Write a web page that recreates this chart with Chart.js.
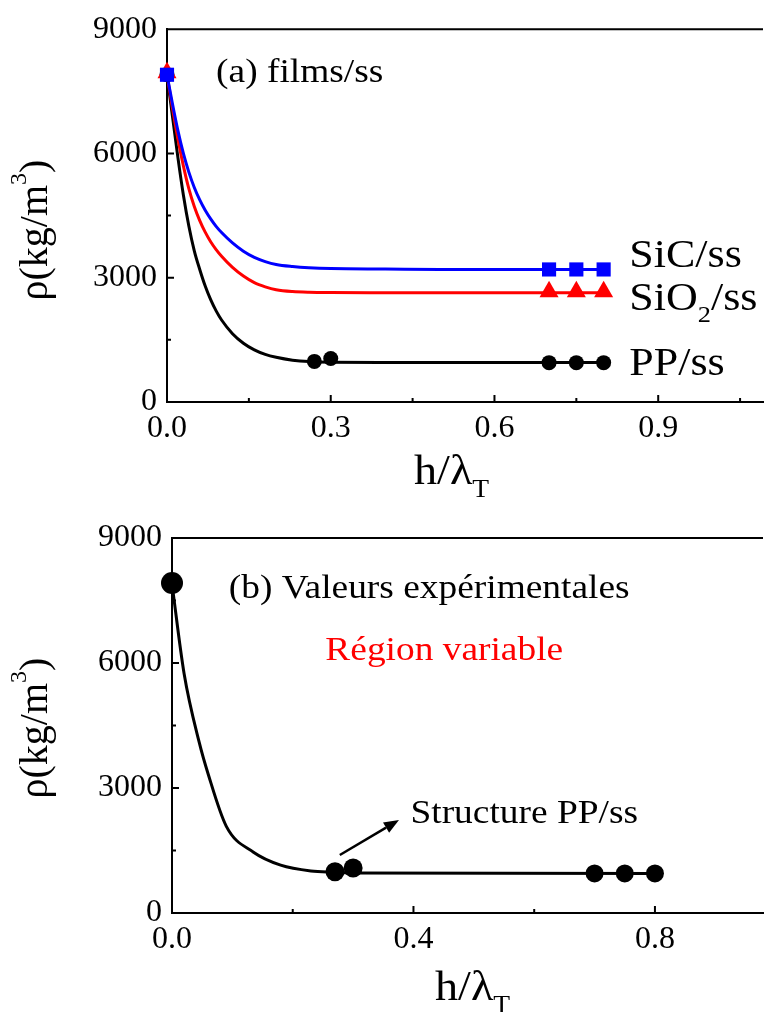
<!DOCTYPE html>
<html>
<head>
<meta charset="utf-8">
<script src="https://cdn.jsdelivr.net/npm/chart.js@4.4.1/dist/chart.umd.min.js"></script>
<style>
  html, body { margin: 0; padding: 0; background: #fff; overflow: hidden; }
  #wrap { position: relative; width: 774px; height: 1012px; }
  canvas { position: absolute; left: 0; }
  #chartA { top: 0; }
  #chartB { top: 505px; }
</style>
</head>
<body>
<div id="wrap">
  <canvas id="chartA" width="774" height="505"></canvas>
  <canvas id="chartB" width="774" height="507"></canvas>
</div>
<script>
const SERIF = "'Liberation Serif', 'Times New Roman', serif";

// (a) courbes d'ajustement
const hFit = [0, 0.01, 0.02, 0.03, 0.04, 0.05, 0.06, 0.07, 0.08, 0.09, 0.1, 0.12, 0.14, 0.16, 0.18, 0.2, 0.23, 0.26, 0.3, 0.4, 0.5, 0.6, 0.7, 0.8];
const rhoFitSiC  = [7900, 7200, 6550, 6000, 5550, 5180, 4880, 4630, 4420, 4240, 4090, 3840, 3640, 3490, 3390, 3320, 3270, 3240, 3220, 3210, 3200, 3200, 3200, 3200];
const rhoFitSiO2 = [7900, 7100, 6350, 5700, 5150, 4720, 4380, 4100, 3870, 3680, 3520, 3250, 3040, 2880, 2780, 2710, 2665, 2648, 2642, 2640, 2640, 2640, 2640, 2640];
const rhoFitPP   = [7900, 6900, 5900, 5000, 4250, 3650, 3200, 2800, 2470, 2200, 1980, 1650, 1420, 1260, 1150, 1080, 1010, 975, 960, 955, 955, 955, 955, 955];

// (a) points calculés
const hMeas = [0, 0.7, 0.75, 0.8];
const rhoSiC = [7900, 3200, 3200, 3200];
const rhoSiO2 = [7950, 2660, 2660, 2660];
const hMeasPP = [0, 0.27, 0.3, 0.7, 0.75, 0.8];
const rhoPP = [7900, 980, 1050, 950, 950, 950];
const seriesNames = ['SiC/ss', 'SiO_2/ss', 'PP/ss'];

// (b) valeurs expérimentales PP/ss
const hExpFit = [0, 0.02, 0.045, 0.06, 0.09, 0.135, 0.18, 0.23, 0.27, 0.3, 0.8];
const rhoExpFit = [7900, 5750, 4100, 3330, 2080, 1460, 1150, 1010, 980, 960, 950];
const hExp = [0, 0.27, 0.3, 0.7, 0.75, 0.8];
const rhoExp = [7920, 990, 1080, 950, 950, 950];

const rhoTicks = [0, 3000, 6000, 9000];
const hTicksA = [0, 0.3, 0.6, 0.9];
const hTicksB = [0, 0.4, 0.8];

const pts = (xs, ys) => xs.map((x, i) => ({ x: x, y: ys[i] }));

// petit balisage : _x = indice, ^x = exposant
function parseRich(s) {
  const out = [];
  let buf = '';
  for (let i = 0; i < s.length; i++) {
    const c = s[i];
    if ((c === '_' || c === '^') && i + 1 < s.length) {
      if (buf) out.push({ t: buf, s: 0 });
      buf = '';
      out.push({ t: s[i + 1], s: c === '_' ? 1 : -1 });
      i++;
    } else {
      buf += c;
    }
  }
  if (buf) out.push({ t: buf, s: 0 });
  return out;
}

function drawRich(ctx, str, x, y, o) {
  const size = o.size;
  const parts = parseRich(str);
  const fontOf = p => (p.s ? Math.round(size * 0.6) : size) + 'px ' + SERIF;
  let w = 0;
  parts.forEach(p => { ctx.font = fontOf(p); p.w = ctx.measureText(p.t).width; w += p.w; });
  ctx.save();
  ctx.translate(x, y);
  if (o.rotate) ctx.rotate(o.rotate);
  if (o.stretch) ctx.scale(o.stretch, 1);
  ctx.fillStyle = o.color || '#000';
  ctx.textBaseline = o.baseline || 'alphabetic';
  ctx.textAlign = 'left';
  let cx = o.align === 'center' ? -w / 2 : 0;
  parts.forEach(p => {
    ctx.font = fontOf(p);
    const dy = p.s > 0 ? size * 0.3 : (p.s < 0 ? -size * 0.4 : 0);
    ctx.fillText(p.t, cx, dy);
    cx += p.w;
  });
  ctx.restore();
}

// cadre du haut, graduations intérieures, textes et flèche
const decor = {
  id: 'decor',
  beforeDatasetsDraw(chart) {
    const ctx = chart.ctx;
    const a = chart.chartArea;
    const sx = chart.scales.x, sy = chart.scales.y;
    ctx.save();
    ctx.strokeStyle = '#000';
    ctx.lineWidth = 2;
    ctx.beginPath();
    ctx.moveTo(a.left, a.top);
    ctx.lineTo(a.right, a.top);

    const marks = (scale, cb) => {
      const vals = scale.ticks.map(t => t.value);
      const step = vals[1] - vals[0];
      vals.forEach(v => cb(scale.getPixelForValue(v), 7));
      vals.map(v => v + step / 2).filter(v => v < scale.max).forEach(v => cb(scale.getPixelForValue(v), 4));
    };
    marks(sx, (p, len) => { ctx.moveTo(p, a.bottom); ctx.lineTo(p, a.bottom - len); });
    marks(sy, (p, len) => { ctx.moveTo(a.left, p); ctx.lineTo(a.left + len, p); });
    ctx.stroke();
    ctx.restore();
  },
  afterDatasetsDraw(chart, args, opts) {
    const ctx = chart.ctx;
    const sx = chart.scales.x, sy = chart.scales.y;
    (opts.texts || []).forEach(t => {
      const x = t.xv !== undefined ? sx.getPixelForValue(t.xv) : t.x;
      const y = t.yv !== undefined ? sy.getPixelForValue(t.yv) : t.y;
      drawRich(ctx, t.text, x, y, Object.assign({ stretch: t.rotate ? 1 : 1.1 }, t));
    });
    (opts.arrows || []).forEach(ar => {
      const x0 = sx.getPixelForValue(ar.from[0]), y0 = sy.getPixelForValue(ar.from[1]);
      const x1 = sx.getPixelForValue(ar.to[0]), y1 = sy.getPixelForValue(ar.to[1]);
      const ang = Math.atan2(y1 - y0, x1 - x0);
      const hl = 15, hw = 6;
      ctx.save();
      ctx.strokeStyle = '#000';
      ctx.fillStyle = '#000';
      ctx.lineWidth = 2.5;
      ctx.beginPath();
      ctx.moveTo(x0, y0);
      ctx.lineTo(x1 - hl * Math.cos(ang), y1 - hl * Math.sin(ang));
      ctx.stroke();
      ctx.beginPath();
      ctx.moveTo(x1, y1);
      ctx.lineTo(x1 - hl * Math.cos(ang) + hw * Math.sin(ang), y1 - hl * Math.sin(ang) - hw * Math.cos(ang));
      ctx.lineTo(x1 - hl * Math.cos(ang) - hw * Math.sin(ang), y1 - hl * Math.sin(ang) + hw * Math.cos(ang));
      ctx.closePath();
      ctx.fill();
      ctx.restore();
    });
  }
};

function axisX(ticks, max, height) {
  return {
    type: 'linear', min: 0, max: max,
    afterBuildTicks: s => { s.ticks = ticks.map(v => ({ value: v })); },
    afterFit: s => { s.height = height; },
    ticks: {
      color: '#000', font: { family: SERIF, size: 32 }, padding: 7,
      maxRotation: 0, autoSkip: false,
      callback: v => v.toFixed(1)
    },
    grid: { display: false, drawTicks: false },
    border: { display: true, color: '#000', width: 2 }
  };
}

function axisY(width) {
  return {
    type: 'linear', min: 0, max: 9000,
    afterBuildTicks: s => { s.ticks = rhoTicks.map(v => ({ value: v })); },
    afterFit: s => { s.width = width; },
    ticks: {
      color: '#000', font: { family: SERIF, size: 32 }, padding: 10,
      autoSkip: false, callback: v => String(v)
    },
    grid: { display: false, drawTicks: false },
    border: { display: true, color: '#000', width: 2 }
  };
}

const fitLine = (data, color, order) => ({
  data: data, showLine: true, borderColor: color, borderWidth: 3,
  pointRadius: 0, cubicInterpolationMode: 'monotone', clip: false, order: order
});
const markers = (data, color, style, radius, order) => ({
  data: data, showLine: false, pointStyle: style, pointRadius: radius,
  backgroundColor: color, borderColor: color, borderWidth: 0, clip: false, order: order
});

new Chart(document.getElementById('chartA'), {
  type: 'scatter',
  data: {
    datasets: [
      fitLine(pts(hFit, rhoFitPP), '#000000', 6),
      fitLine(pts(hFit, rhoFitSiO2), '#ff0000', 5),
      fitLine(pts(hFit, rhoFitSiC), '#0000ff', 4),
      markers(pts(hMeasPP, rhoPP), '#000000', 'circle', 7.5, 3),
      markers(pts(hMeas, rhoSiO2), '#ff0000', 'triangle', 11, 2),
      markers(pts(hMeas, rhoSiC), '#0000ff', 'rect', 10, 1)
    ]
  },
  options: {
    responsive: false,
    animation: false,
    events: [],
    layout: { padding: { top: 27, left: 0, right: 0, bottom: 0 } },
    scales: { x: axisX(hTicksA, 1.092, 103), y: axisY(167) },
    plugins: {
      legend: { display: false },
      tooltip: { enabled: false },
      decor: {
        texts: [
          { text: '(a) films/ss', xv: 0.09, yv: 7728, size: 34 },
          { text: seriesNames[0], xv: 0.847, yv: 3260, size: 40 },
          { text: seriesNames[1], xv: 0.847, yv: 2220, size: 40 },
          { text: seriesNames[2], xv: 0.847, yv: 660, size: 40 },
          { text: 'ρ(kg/m^3)', x: 36, y: 230, size: 40, rotate: -Math.PI / 2, align: 'center', baseline: 'middle' },
          { text: 'h/λ_T', x: 414, y: 484, size: 42 }
        ]
      }
    }
  },
  plugins: [decor]
});

new Chart(document.getElementById('chartB'), {
  type: 'scatter',
  data: {
    datasets: [
      fitLine(pts(hExpFit, rhoExpFit), '#000000', 2),
      Object.assign(markers(pts(hExp, rhoExp), '#000000', 'circle', 9.5, 1), {
        pointRadius: [11, 9.5, 9.5, 9, 9, 9]
      })
    ]
  },
  options: {
    responsive: false,
    animation: false,
    events: [],
    layout: { padding: { top: 33, left: 0, right: 0, bottom: 0 } },
    scales: { x: axisX(hTicksB, 0.979, 99), y: axisY(172) },
    plugins: {
      legend: { display: false },
      tooltip: { enabled: false },
      decor: {
        texts: [
          { text: '(b) Valeurs expérimentales', xv: 0.094, yv: 7560, size: 34 },
          { text: 'Région variable', xv: 0.254, yv: 6072, size: 34, color: '#ff0000' },
          { text: 'Structure PP/ss', xv: 0.395, yv: 2160, size: 34 },
          { text: 'ρ(kg/m^3)', x: 36, y: 223, size: 40, rotate: -Math.PI / 2, align: 'center', baseline: 'middle' },
          { text: 'h/λ_T', x: 435, y: 495, size: 42 }
        ],
        arrows: [
          { from: [0.278, 1392], to: [0.376, 2232] }
        ]
      }
    }
  },
  plugins: [decor]
});
</script>
</body>
</html>
